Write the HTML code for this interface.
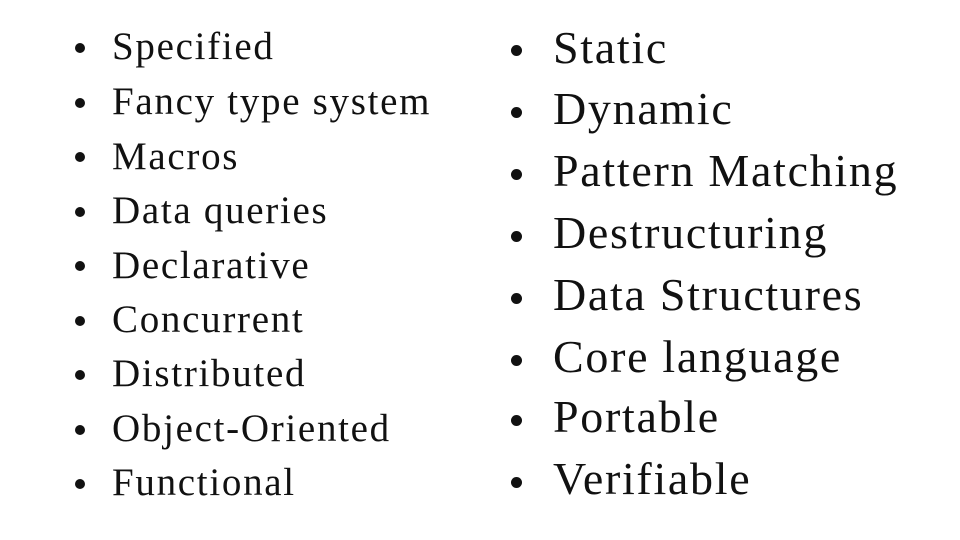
<!DOCTYPE html>
<html><head><meta charset="utf-8"><style>
html,body{margin:0;padding:0;background:#fff;}
body{width:960px;height:540px;position:relative;overflow:hidden;font-family:"Liberation Serif",serif;color:#111;}
.l{position:absolute;white-space:nowrap;line-height:1;}
.a{font-size:39px;left:112px;letter-spacing:1.7px;}
.b{font-size:46px;left:553px;letter-spacing:1.7px;}
.d{position:absolute;border-radius:50%;background:#111;}
.da{width:10px;height:10px;left:75px;}
.db{width:11px;height:11px;left:511px;}
</style></head><body>
<div class="l a" style="top:27px">Specified</div><div class="d da" style="top:43px"></div>
<div class="l a" style="top:82px">Fancy type system</div><div class="d da" style="top:98px"></div>
<div class="l a" style="top:137px">Macros</div><div class="d da" style="top:152px"></div>
<div class="l a" style="top:191px">Data queries</div><div class="d da" style="top:207px"></div>
<div class="l a" style="top:246px">Declarative</div><div class="d da" style="top:261px"></div>
<div class="l a" style="top:300px">Concurrent</div><div class="d da" style="top:316px"></div>
<div class="l a" style="top:354px">Distributed</div><div class="d da" style="top:370px"></div>
<div class="l a" style="top:409px">Object-Oriented</div><div class="d da" style="top:425px"></div>
<div class="l a" style="top:463px">Functional</div><div class="d da" style="top:479px"></div>

<div class="l b" style="top:25px">Static</div><div class="d db" style="top:45px"></div>
<div class="l b" style="top:86px">Dynamic</div><div class="d db" style="top:107px"></div>
<div class="l b" style="top:148px">Pattern Matching</div><div class="d db" style="top:169px"></div>
<div class="l b" style="top:210px">Destructuring</div><div class="d db" style="top:231px"></div>
<div class="l b" style="top:272px">Data Structures</div><div class="d db" style="top:293px"></div>
<div class="l b" style="top:334px">Core language</div><div class="d db" style="top:355px"></div>
<div class="l b" style="top:394px">Portable</div><div class="d db" style="top:415px"></div>
<div class="l b" style="top:456px">Verifiable</div><div class="d db" style="top:477px"></div>
</body></html>
